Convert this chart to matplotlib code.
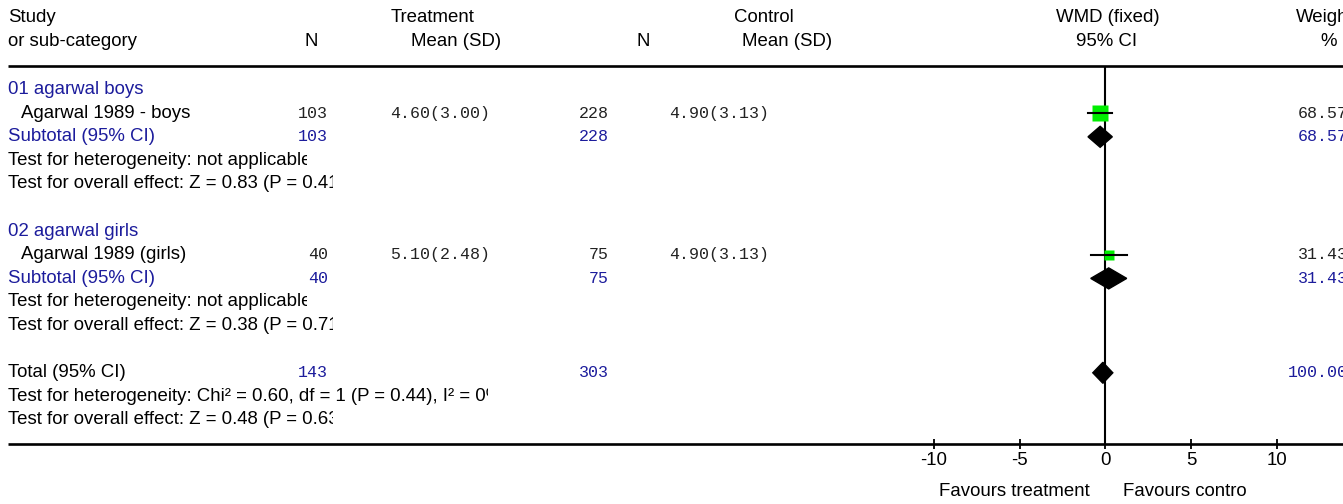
import matplotlib
matplotlib.use('Agg')
import matplotlib.pyplot as plt
from matplotlib.patches import Polygon
from matplotlib.transforms import Bbox, TransformedBbox
import numpy as np

# ---- data ----
groups = ['01 agarwal boys', '02 agarwal girls']
studies = ['Agarwal 1989 - boys', 'Agarwal 1989 (girls)']
n_trt = [103, 40]
sd_trt = ['4.60(3.00)', '5.10(2.48)']
n_ctl = [228, 75]
sd_ctl = ['4.90(3.13)', '4.90(3.13)']
wmd = [-0.30, 0.20]
ci_lo = [-1.01, -0.85]
ci_hi = [0.41, 1.25]
weights = ['68.57', '31.43']
weight_vals = [68.57, 31.43]
het_sub = ['Test for heterogeneity: not applicable', 'Test for heterogeneity: not applicable']
eff_sub = ['Test for overall effect: Z = 0.83 (P = 0.41)', 'Test for overall effect: Z = 0.38 (P = 0.71)']

total_n_trt = 143
total_n_ctl = 303
total_wmd = -0.14
total_lo = -0.73
total_hi = 0.44
total_weight = '100.00'
total_het = 'Test for heterogeneity: Chi² = 0.60, df = 1 (P = 0.44), I² = 0%'
total_eff = 'Test for overall effect: Z = 0.48 (P = 0.63)'

xticks = [-10, -5, 0, 5, 10]

# ---- layout ----
W, H = 1343, 504
ROW0, ROW_H = 89.6, 23.6          # pixel y of first row, row spacing
BLUE = '#1c1c9c'
DARK = '#222222'
SANS = 'Liberation Sans'
MONO = 'Liberation Mono'
FS = 13.4
MFS = 12.0


def py(row):
    return ROW0 + ROW_H * row


fig = plt.figure(figsize=(W / 100, H / 100), dpi=100)
ax = fig.add_axes([0, 0, 1, 1])
ax.set_xlim(0, W)
ax.set_ylim(H, 0)
ax.axis('off')


def sans(x, y, s, color='black', ha='left', clip=None):
    t = ax.text(x, y, s, fontsize=FS, family=SANS, color=color, ha=ha, va='center')
    if clip is not None:
        # the reference cuts some lines off at a fixed width
        t.set_clip_box(TransformedBbox(Bbox([[0, 0], [clip, H]]), ax.transData))
        t.set_clip_on(True)
    return t


def mono(x, y, s, color=DARK, ha='right'):
    return ax.text(x, y, s, fontsize=MFS, family=MONO, color=color, ha=ha, va='center')


# header
sans(8, 18, 'Study')
sans(8, 42, 'or sub-category')
sans(311, 42, 'N', ha='center')
sans(433, 18, 'Treatment', ha='center')
sans(456, 42, 'Mean (SD)', ha='center')
sans(643, 42, 'N', ha='center')
sans(764, 18, 'Control', ha='center')
sans(787, 42, 'Mean (SD)', ha='center')
sans(1108, 18, 'WMD (fixed)', ha='center')
sans(1107, 42, '95% CI', ha='center')
sans(1296, 18, 'Weight')
sans(1329, 42, '%', ha='center')

ax.plot([8, W], [66, 66], color='black', lw=1.9, solid_capstyle='butt')
ax.plot([8, W], [444, 444], color='black', lw=1.9, solid_capstyle='butt')

het_clip = [307, 307]
eff_clip = [333, 333]
study_rows = []
sub_rows = []
for i in range(len(groups)):
    r = i * 6
    sans(8, py(r), groups[i], color=BLUE)
    sans(21, py(r + 1), studies[i])
    mono(328, py(r + 1), str(n_trt[i]))
    mono(390, py(r + 1), sd_trt[i], ha='left')
    mono(609, py(r + 1), str(n_ctl[i]))
    mono(669, py(r + 1), sd_ctl[i], ha='left')
    mono(1348, py(r + 1), weights[i])
    sans(8, py(r + 2), 'Subtotal (95% CI)', color=BLUE)
    mono(328, py(r + 2), str(n_trt[i]), color=BLUE)
    mono(609, py(r + 2), str(n_ctl[i]), color=BLUE)
    mono(1348, py(r + 2), weights[i], color=BLUE)
    sans(8, py(r + 3), het_sub[i], clip=het_clip[i])
    sans(8, py(r + 4), eff_sub[i], clip=eff_clip[i])
    study_rows.append(r + 1)
    sub_rows.append(r + 2)

tr = 12
sans(8, py(tr), 'Total (95% CI)')
mono(328, py(tr), str(total_n_trt), color=BLUE)
mono(609, py(tr), str(total_n_ctl), color=BLUE)
mono(1348, py(tr), total_weight, color=BLUE)
sans(8, py(tr + 1), total_het, clip=488)
sans(8, py(tr + 2), total_eff, clip=333)

sans(1014, 492, 'Favours treatment', ha='center')
sans(1123, 492, 'Favours control', clip=1246)

# ---- forest panel ----
x0_px, px_per_unit = 1105.3, 17.14
left_px = 850
ax_f = fig.add_axes([left_px / W, (H - 444) / H, (W - left_px) / W, (444 - 66) / H])
ax_f.set_xlim((left_px - x0_px) / px_per_unit, (W - x0_px) / px_per_unit)
ax_f.set_ylim(444, 66)
ax_f.patch.set_visible(False)
for s in ['top', 'left', 'right', 'bottom']:
    ax_f.spines[s].set_visible(False)
ax_f.set_yticks([])
ax_f.set_xticks(xticks)
ax_f.set_xticklabels([str(t) for t in xticks], fontsize=FS, family=SANS)
ax_f.tick_params(axis='x', direction='inout', length=7, width=1.3, pad=2)

ax_f.axvline(0, color='black', lw=1.5, zorder=1)

sq_scale = 11.0 / np.sqrt(68.57)
h = 10.5
for i in range(len(studies)):
    y = py(study_rows[i])
    ax_f.plot(wmd[i], y, marker='s', ms=sq_scale * np.sqrt(weight_vals[i]),
              color='#00ee00', mec='none', zorder=2)
    ax_f.plot([ci_lo[i], ci_hi[i]], [y, y], color='black', lw=1.5, zorder=3)
    ys = py(sub_rows[i])
    ax_f.add_patch(Polygon([(ci_lo[i], ys), (wmd[i], ys - h), (ci_hi[i], ys), (wmd[i], ys + h)],
                           closed=True, color='black', zorder=3))

yt = py(tr)
ax_f.add_patch(Polygon([(total_lo, yt), (total_wmd, yt - h), (total_hi, yt), (total_wmd, yt + h)],
                       closed=True, color='black', zorder=3))

fig.savefig('out.png', dpi=100)
